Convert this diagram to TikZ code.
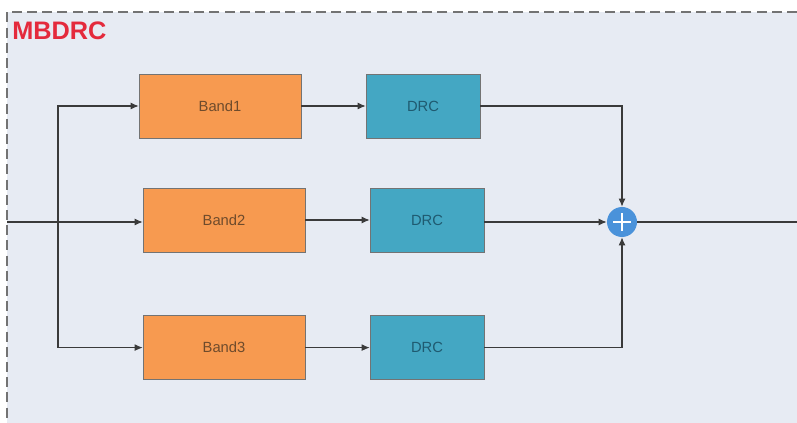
\documentclass[tikz,border=0pt]{standalone}
\usepackage{fontspec}
\setmainfont{Liberation Sans}
\usetikzlibrary{arrows.meta, positioning}

\definecolor{panelbg}{HTML}{E7EBF3}
\definecolor{bandfill}{HTML}{F79A50}
\definecolor{bandtext}{HTML}{6E4B2C}
\definecolor{drcfill}{HTML}{44A7C3}
\definecolor{drctext}{HTML}{1F5A70}
\definecolor{sumfill}{HTML}{4A92DA}
\definecolor{titlered}{HTML}{E42A3C}
\definecolor{wire}{HTML}{3A3A3A}

\begin{document}
\begin{tikzpicture}[
  bandbox/.style={rectangle, draw=black!55, fill=bandfill, minimum width=4.05cm,
                  minimum height=1.6cm, font=\fontsize{10.5}{12}\selectfont, text=bandtext},
  drcbox/.style={rectangle, draw=black!55, fill=drcfill, minimum width=2.85cm,
                 minimum height=1.6cm, font=\fontsize{10.5}{12}\selectfont, text=drctext},
  sumnode/.style={circle, fill=sumfill, minimum size=0.75cm, inner sep=0pt},
  wireline/.style={draw=wire, line width=0.75pt},
  msg/.style={wireline, -{Latex[length=2mm, width=1.7mm]}},
]

% ---- 画布 ----
\useasboundingbox (0,0) rectangle (19.925,-10.575);
\fill[panelbg] (0.175,-0.3) rectangle (19.925,-10.575);
\draw[black!55, line width=1pt, dash pattern=on 0.25cm off 0.13cm]
  (19.925,-0.3) -- (0.175,-0.3) -- (0.175,-10.575);
\node[font=\fontsize{18}{22}\selectfont\bfseries, text=titlered, anchor=north west, inner sep=0pt]
  (title) at (0.3,-0.55) {MBDRC};

% ---- 模块 ----
\node[bandbox] (band1) at (5.5,-2.65)   {Band1};
\node[bandbox] (band2) at (5.6,-5.5)    {Band2};
\node[bandbox] (band3) at (5.6,-8.69)   {Band3};
\node[drcbox]  (drc1)  at (10.575,-2.65) {DRC};
\node[drcbox]  (drc2)  at (10.675,-5.5)  {DRC};
\node[drcbox]  (drc3)  at (10.675,-8.69) {DRC};
\node[sumnode] (sum)   at (15.55,-5.55)  {};
\draw[white, line width=2pt] ([xshift=-0.22cm]sum.center) -- ([xshift=0.22cm]sum.center);
\draw[white, line width=2pt] ([yshift=-0.22cm]sum.center) -- ([yshift=0.22cm]sum.center);

\coordinate (in)    at (0.175,-5.55);
\coordinate (split) at (1.45,-5.55);
\coordinate (out)   at (19.925,-5.55);

% ---- 连线 ----
\draw[msg] (in) -- (band2.west |- in);
\draw[msg] (split) |- (band1.west);
\draw[msg] (split) |- (band3.west);
\foreach \i in {1,2,3}
  \draw[msg] (band\i.east) -- (drc\i.west);
\draw[msg] (drc1.east) -| (sum.north);
\draw[msg] (drc2.east |- sum) -- (sum.west);
\draw[msg] (drc3.east) -| (sum.south);
\draw[wireline] (sum.east) -- (out);

\end{tikzpicture}
\end{document}
